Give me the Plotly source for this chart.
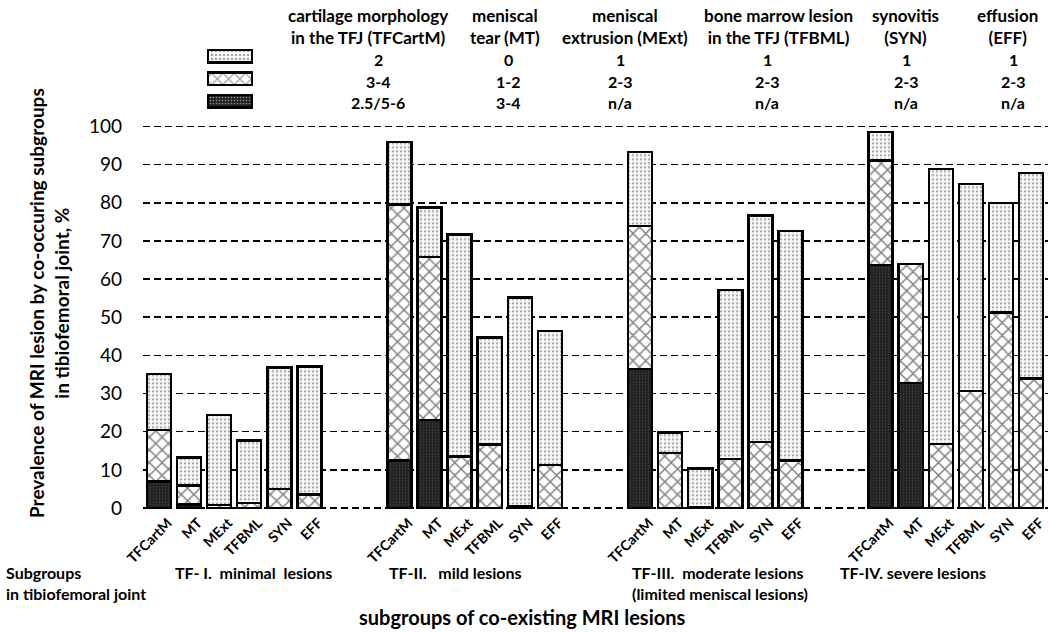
import plotly.graph_objects as go

W, H = 1050, 632

# ---------------- data ----------------
subgroups = ["TFCartM", "MT", "MExt", "TFBML", "SYN", "EFF"]
group_names = ["TF- I.&nbsp; minimal&nbsp; lesions", "TF-II.&nbsp;&nbsp; mild lesions",
               "TF-III.&nbsp; moderate lesions", "TF-IV. severe lesions"]

# segment heights (%), 4 groups x 6 subgroups, in order of subgroups
dark_vals = [7.0, 0.9, 0, 0, 0, 0,
             12.4, 23.1, 0, 0, 0, 0,
             36.4, 0, 0, 0, 0, 0,
             63.7, 32.7, 0, 0, 0, 0]
cross_vals = [13.5, 5.0, 0.8, 1.3, 5.0, 3.5,
              67.2, 42.7, 13.5, 16.7, 0.4, 11.3,
              37.5, 14.4, 0.3, 12.9, 17.3, 12.4,
              27.4, 31.2, 16.8, 30.7, 51.2, 34.0]
dot_vals = [14.6, 7.3, 23.6, 16.4, 31.8, 33.6,
            16.3, 13.0, 58.2, 28.0, 54.8, 35.1,
            19.4, 5.4, 10.0, 44.2, 59.4, 60.2,
            7.4, 0, 72.0, 54.2, 28.8, 53.8]

header_cols = ["cartilage morphology<br>in the TFJ (TFCartM)", "meniscal<br>tear (MT)",
               "meniscal<br>extrusion (MExt)", "bone marrow lesion<br>in the TFJ (TFBML)",
               "synovitis<br>(SYN)", "effusion<br>(EFF)"]
row_dot = ["2", "0", "1", "1", "1", "1"]
row_cross = ["3-4", "1-2", "2-3", "2-3", "2-3", "2-3"]
row_dark = ["2.5/5-6", "3-4", "n/a", "n/a", "n/a", "n/a"]

# ---------------- helpers ----------------
def px(x):
    return x / W

def py(y):
    return 1 - y / H

FONT = "Lato"
slots = [g * 8 + i for g in range(4) for i in range(6)]
ticktext = subgroups * 4

pat_dot = dict(shape=".", fgcolor="#5a5a5a", bgcolor="white", size=4, solidity=0.35, fillmode="overlay")
pat_cross = dict(shape="x", fgcolor="black", bgcolor="white", size=9, solidity=0.3, fillmode="overlay")
pat_dark = dict(shape=".", fgcolor="#707070", bgcolor="#1e1e1e", size=3, solidity=0.25, fillmode="overlay")
line = dict(color="black", width=2.5)

fig = go.Figure()
for vals, col, pat, name in [(dark_vals, "#1e1e1e", pat_dark, "dark"),
                             (cross_vals, "white", pat_cross, "cross"),
                             (dot_vals, "white", pat_dot, "dot")]:
    fig.add_trace(go.Bar(
        x=slots, y=[v if v > 0 else None for v in vals], width=0.8, name=name,
        marker=dict(color=col, pattern=pat, line=line), showlegend=False,
        hoverinfo="skip"))

# legend swatches in the header table
fig.add_trace(go.Bar(
    x=[1, 1, 1], y=[0, 1, 2], orientation="h", width=0.54,
    xaxis="x2", yaxis="y2", showlegend=False, hoverinfo="skip",
    marker=dict(color=["white", "white", "#1e1e1e"],
                line=dict(color="black", width=2.5),
                pattern=dict(shape=[".", "x", "."],
                             fgcolor=["#5a5a5a", "black", "#707070"],
                             bgcolor=["white", "white", "#1e1e1e"],
                             size=[4, 8, 3], solidity=[0.35, 0.3, 0.25],
                             fillmode="overlay"))))

unit = (508 - 126.5) / 100.0
fig.update_layout(
    template="none",
    width=W, height=H, margin=dict(l=0, r=0, t=0, b=0, pad=0, autoexpand=False),
    paper_bgcolor="white", plot_bgcolor="white",
    barmode="stack", bargap=0,
    font=dict(family=FONT, color="black"),
    xaxis=dict(domain=[px(143), px(1048)], automargin=False,
               range=[-16 / 30.07, (1048 - 159) / 30.07],
               tickvals=slots, ticktext=ticktext, tickangle=-45,
               tickfont=dict(family=FONT, size=14, weight="bold"),
               ticklabelshift=9, ticklabelstandoff=2,
               showgrid=False, zeroline=False, showline=False, ticks=""),
    yaxis=dict(domain=[py(508 + 0.3 * unit), py(126.5 - 0.3 * unit)], automargin=False,
               range=[-0.3, 100.3], tickvals=list(range(0, 101, 10)),
               tickfont=dict(family=FONT, size=19),
               showgrid=True, gridcolor="black", gridwidth=1.5, griddash="7px,4px",
               zeroline=False, showline=False, ticks="", ticklabelstandoff=20),
    xaxis2=dict(domain=[px(206), px(254)], range=[-0.045, 1.045], anchor="y2",
                visible=False, fixedrange=True, automargin=False),
    yaxis2=dict(domain=[py(112.5), py(45)], range=[2.5, -0.5], anchor="x2",
                visible=False, fixedrange=True, automargin=False),
)

ann = []
hdr = dict(family=FONT, size=17, color="black", weight="bold")
val = dict(family=FONT, size=16, color="black", weight="bold")
head_x = [368, 505, 625, 778, 905, 1007]
val_x = [378, 508, 620, 767, 906, 1013]
for i in range(6):
    ann.append(dict(x=px(head_x[i]), y=py(26), text=header_cols[i], font=hdr,
                    xanchor="center", yanchor="middle"))
    for rowvals, yy in [(row_dot, 59), (row_cross, 81), (row_dark, 103)]:
        ann.append(dict(x=px(val_x[i]), y=py(yy), text=rowvals[i], font=val,
                        xanchor="center", yanchor="middle"))

# y axis title
ann.append(dict(x=px(49), y=py(303), text="Prevalence of MRI lesion by co-occuring subgroups<br>in tibiofemoral joint, %",
                textangle=-90, font=dict(family=FONT, size=19, weight="bold"),
                xanchor="center", yanchor="middle"))

# bottom labels
lab = dict(family=FONT, size=16, color="black", weight="bold")
ann.append(dict(x=px(4), y=py(583), text="Subgroups<br>in tibiofemoral joint", align="left",
                font=lab, xanchor="left", yanchor="middle"))
ann.append(dict(x=px(253), y=py(572), text=group_names[0], font=lab, xanchor="center", yanchor="middle"))
ann.append(dict(x=px(455), y=py(572), text=group_names[1], font=lab, xanchor="center", yanchor="middle"))
ann.append(dict(x=px(630), y=py(583), text=group_names[2] + "<br>(limited meniscal lesions)", align="left",
                font=lab, xanchor="left", yanchor="middle"))
ann.append(dict(x=px(838), y=py(572), text=group_names[3], font=lab, xanchor="left", yanchor="middle"))
ann.append(dict(x=px(522), y=py(617), text="subgroups of co-existing MRI lesions",
                font=dict(family=FONT, size=20, weight="bold"), xanchor="center", yanchor="middle"))

for a in ann:
    a.update(xref="paper", yref="paper", showarrow=False)
fig.update_layout(annotations=ann)

fig.write_html("out.html", config={"displayModeBar": False, "staticPlot": True},
               post_script="document.body.style.margin='0';document.body.style.overflow='hidden';")
